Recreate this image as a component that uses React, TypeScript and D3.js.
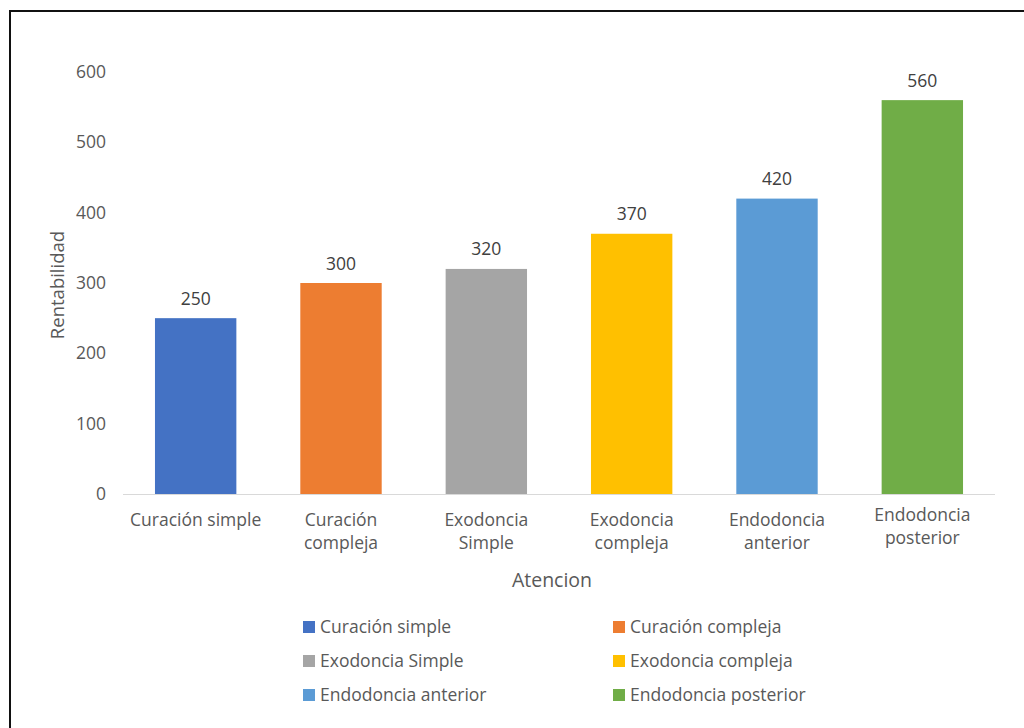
import React from "react";
import * as d3 from "d3";

const categories = [
  "Curación simple",
  "Curación compleja",
  "Exodoncia Simple",
  "Exodoncia compleja",
  "Endodoncia anterior",
  "Endodoncia posterior",
];
const axisLabels = [
  ["Curación simple"],
  ["Curación", "compleja"],
  ["Exodoncia", "Simple"],
  ["Exodoncia", "compleja"],
  ["Endodoncia", "anterior"],
  ["Endodoncia", "posterior"],
];
const values = [250, 300, 320, 370, 420, 560];
const colors = ["#4472C4", "#ED7D31", "#A5A5A5", "#FFC000", "#5B9BD5", "#70AD47"];
const yTicks = [0, 100, 200, 300, 400, 500, 600];

const FONT = "'Open Sans', 'Noto Sans', sans-serif";
const TXT = "#595959";
const FS = 17.5;

export default function App() {
  const W = 1024, H = 728;
  const x = d3.scaleBand<string>().domain(categories).range([123, 995]).paddingInner(0.44).paddingOuter(0.22);
  const y = d3.scaleLinear().domain([0, 600]).range([494, 72]);
  return (
    <svg width={W} height={H} style={{ position: "absolute", left: 0, top: 0, background: "#fff" }} fontFamily={FONT}>
      <rect x={0} y={0} width={W} height={H} fill="#fff" />
      <line x1={9.5} y1={11} x2={W} y2={11} stroke="#111" strokeWidth={2} />
      <line x1={10} y1={10} x2={10} y2={H} stroke="#111" strokeWidth={2} />
      {yTicks.map((t) => (
        <text key={t} x={106} y={y(t)} dy="0.35em" textAnchor="end" fontSize={FS} fill={TXT}>
          {t}
        </text>
      ))}
      <line x1={123} x2={995} y1={y(0) + 0.5} y2={y(0) + 0.5} stroke="#D9D9D9" strokeWidth={1} />
      {categories.map((c, i) => (
        <g key={c}>
          <rect x={x(c)} y={y(values[i])} width={x.bandwidth()} height={y(0) - y(values[i])} fill={colors[i]} />
          <text x={x(c)! + x.bandwidth() / 2} y={y(values[i]) - 13.5} textAnchor="middle" fontSize={FS} fill="#404040">
            {values[i]}
          </text>
          {axisLabels[i].map((l, j) => (
            <text key={j} x={x(c)! + x.bandwidth() / 2} y={526 + j * 23 - (i === 5 ? 5 : 0)} textAnchor="middle" fontSize={FS} fill={TXT}>
              {l}
            </text>
          ))}
        </g>
      ))}
      <text transform={`translate(63.5,285) rotate(-90)`} textAnchor="middle" fontSize={18.5} fill={TXT}>
        Rentabilidad
      </text>
      <text x={552} y={587} textAnchor="middle" fontSize={19.5} fill={TXT}>
        Atencion
      </text>
      {categories.map((c, i) => {
        const col = i % 2, row = Math.floor(i / 2);
        const lx = col === 0 ? 303 : 613;
        const ly = 627 + row * 34;
        return (
          <g key={"lg" + c}>
            <rect x={lx} y={ly - 6} width={12} height={12} fill={colors[i]} />
            <text x={lx + 17} y={ly} dy="0.35em" fontSize={FS} fill={TXT}>
              {c}
            </text>
          </g>
        );
      })}
    </svg>
  );
}
